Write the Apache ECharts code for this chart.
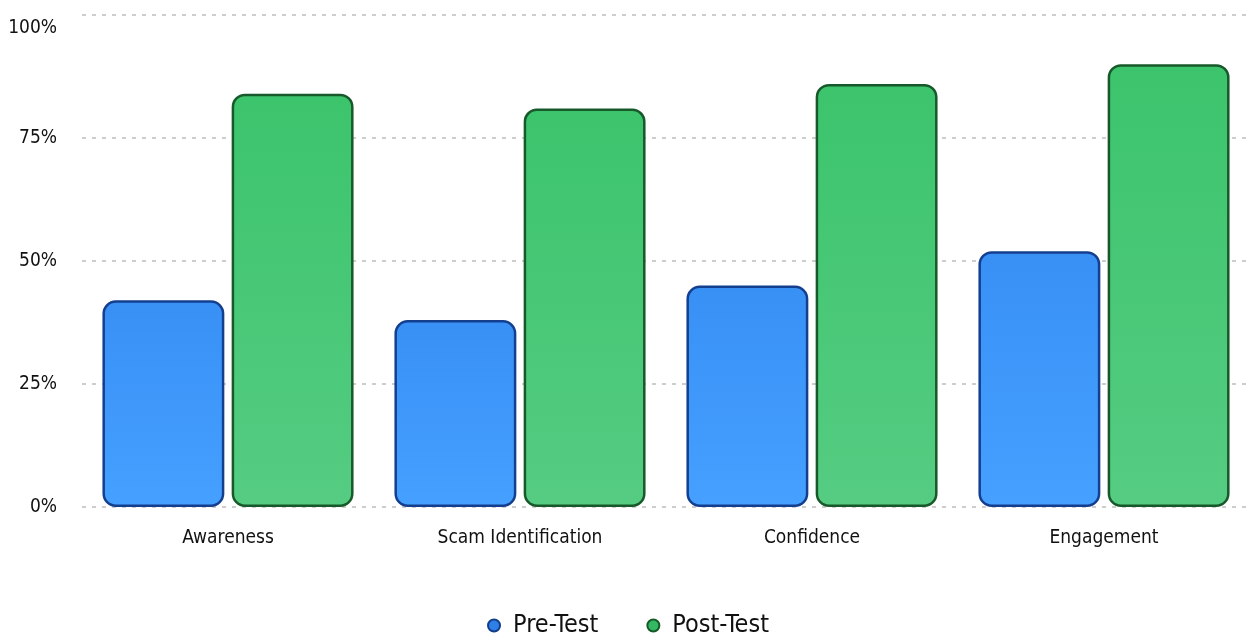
<!DOCTYPE html>
<html>
<head>
<meta charset="utf-8">
<script src="https://cdn.jsdelivr.net/npm/echarts@6/dist/echarts.min.js"></script>
<style>
html,body{margin:0;padding:0;background:#fff;}
#chart{width:1256px;height:637px;}
</style>
</head>
<body>
<div id="chart"></div>
<script>
const categories = ['Awareness', 'Scam Identification', 'Confidence', 'Engagement'];
const preTest = [42, 38, 45, 52];
const postTest = [84, 81, 86, 90];
const yTicks = [0, 25, 50, 75, 100];

const FONT = "'Liberation Sans Narrow', 'DejaVu Sans Condensed', 'Noto Sans', sans-serif";

function grad(top, bottom) {
  return new echarts.graphic.LinearGradient(0, 0, 0, 1, [
    { offset: 0, color: top },
    { offset: 1, color: bottom }
  ]);
}

const chart = echarts.init(document.getElementById('chart'));
chart.setOption({
  backgroundColor: '#ffffff',
  animation: false,
  grid: { left: 82, right: 6, top: 15, bottom: 130, containLabel: false },
  legend: {
    top: 608,
    left: 'center',
    itemWidth: 28,
    itemHeight: 12,
    itemGap: 48,
    icon: 'circle',
    textStyle: { fontFamily: FONT, fontSize: 25, color: '#111' },
    data: [
      { name: 'Pre-Test', itemStyle: { color: '#2f7fe8', borderColor: '#123d8a', borderWidth: 2 } },
      { name: 'Post-Test', itemStyle: { color: '#35b864', borderColor: '#165a28', borderWidth: 2 } }
    ]
  },
  xAxis: {
    type: 'category',
    data: categories,
    axisLine: { show: false },
    axisTick: { show: false },
    axisLabel: { fontFamily: FONT, fontSize: 19, color: '#111', margin: 22 }
  },
  yAxis: {
    type: 'value',
    min: 0,
    max: 100,
    interval: 25,
    axisLine: { show: false },
    axisTick: { show: false },
    axisLabel: {
      fontFamily: FONT, fontSize: 19, color: '#111', margin: 25,
      formatter: function (v) {
        if (yTicks.indexOf(v) < 0) return '';
        return v === 100 ? '{top|' + v + '%}' : v + '%';
      },
      rich: { top: { fontFamily: FONT, fontSize: 19, color: '#111', padding: [26, 0, 0, 0] } }
    },
    splitLine: { lineStyle: { color: '#bdbdbd', type: [4, 6], width: 1.5 } }
  },
  series: [
    {
      name: 'Pre-Test',
      type: 'bar',
      data: preTest,
      barCategoryGap: '14%',
      barGap: '6%',
      itemStyle: {
        color: grad('#3890f5', '#45a0ff'),
        borderColor: '#133f8e',
        borderWidth: 2.5,
        borderRadius: 12
      }
    },
    {
      name: 'Post-Test',
      type: 'bar',
      data: postTest,
      barCategoryGap: '14%',
      barGap: '6%',
      itemStyle: {
        color: grad('#3cc46c', '#55cc82'),
        borderColor: '#17592a',
        borderWidth: 2.5,
        borderRadius: 12
      }
    }
  ]
});
</script>
</body>
</html>
